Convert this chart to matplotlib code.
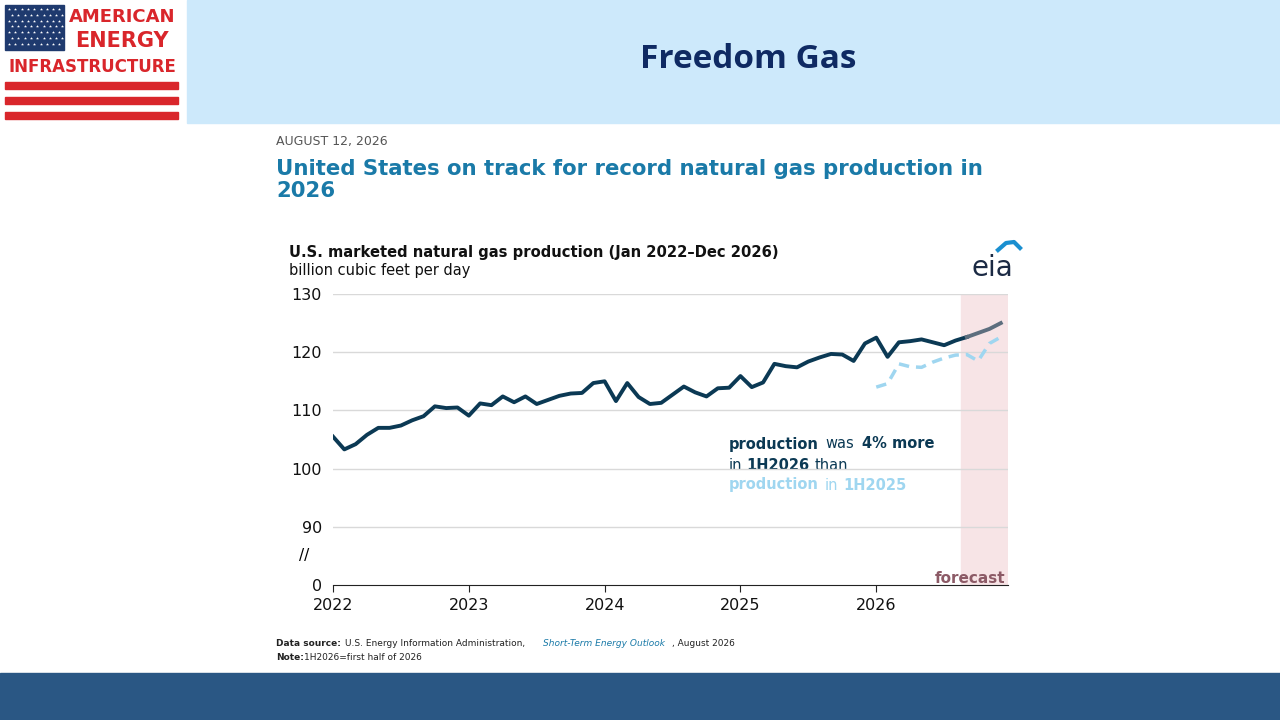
import numpy as np
import matplotlib
matplotlib.use("Agg")
import matplotlib.pyplot as plt
from matplotlib.patches import Rectangle

# monthly marketed production, Jan 2022 - Dec 2026 (bcf/d)
production = [105.5, 103.3, 104.2, 105.8, 107.0, 107.0, 107.4, 108.3, 109.0, 110.7, 110.4, 110.5,
              109.1, 111.2, 110.9, 112.4, 111.4, 112.4, 111.1, 111.8, 112.5, 112.9, 113.0, 114.7,
              115.0, 111.6, 114.7, 112.3, 111.1, 111.3, 112.7, 114.1, 113.1, 112.4, 113.8, 113.9,
              115.9, 114.0, 114.8, 118.0, 117.6, 117.4, 118.4, 119.1, 119.7, 119.6, 118.5, 121.5,
              122.5, 119.2, 121.7, 121.9, 122.2, 121.7, 121.2, 122.0, 122.6, 123.3, 124.0, 125.0]
# 2025 production overlaid on 2026 months
prior_year = [114.0, 114.6, 118.0, 117.5, 117.4, 118.3, 119.0, 119.5, 119.6, 118.5, 121.5, 122.6]
forecast_start = 55  # forecast from Aug 2026 onward
years = [2022, 2023, 2024, 2025, 2026]
yticks = [80, 90, 100, 110, 120, 130]
ytick_labels = ["0", "90", "100", "110", "120", "130"]

W, H = 1280, 720
fig = plt.figure(figsize=(12.8, 7.2), dpi=100)
bg = fig.add_axes([0, 0, 1, 1])
bg.set_xlim(0, W)
bg.set_ylim(H, 0)
bg.axis("off")

# banner and footer
bg.add_patch(Rectangle((187, 0), W - 187, 123, color="#cde9fb"))
bg.add_patch(Rectangle((0, 673), W, 47, color="#2a5784"))
bg.text(748, 60, "Freedom Gas", ha="center", va="center", fontsize=24, fontweight="bold",
        color="#0f2a63", family="Open Sans")

# logo
bg.add_patch(Rectangle((5, 5), 59, 45, color="#1f3a6e"))
for r in range(7):
    for c in range(9):
        bg.plot(9 + c * 6.3 + (r % 2) * 3, 9 + r * 5.8, marker="*", ms=2.3, color="white", mew=0)
red = "#d9262b"
bg.text(122, 17, "AMERICAN", ha="center", va="center", fontsize=13, fontweight="bold", color=red)
bg.text(122, 41, "ENERGY", ha="center", va="center", fontsize=15, fontweight="bold", color=red)
bg.text(92, 67, "INFRASTRUCTURE", ha="center", va="center", fontsize=12, fontweight="bold", color=red)
for y in [82, 97, 112]:
    bg.add_patch(Rectangle((5, y), 173, 7, color=red))

# article header
bg.text(276, 141, "AUGUST 12, 2026", ha="left", va="center", fontsize=9, color="#555555")
bg.text(276, 180, "United States on track for record natural gas production in\n2026", ha="left",
        va="center", fontsize=15.3, fontweight="bold", color="#1a7aa8", linespacing=1.1)
bg.text(289, 252, "U.S. marketed natural gas production (Jan 2022\u2013Dec 2026)", ha="left",
        va="center", fontsize=10.6, fontweight="bold", color="#111111")
bg.text(289, 271, "billion cubic feet per day", ha="left", va="center", fontsize=10.5, color="#111111")
bg.text(992, 268, "eia", ha="center", va="center", fontsize=20, color="#1b2a44")
bg.plot([998, 1006, 1014, 1020], [250, 243, 242, 248], color="#1a8fd0", lw=3)
bg.text(276, 643, "Data source:", ha="left", va="center", fontsize=6.5, fontweight="bold", color="#222")
bg.text(345, 643, "U.S. Energy Information Administration,", ha="left", va="center", fontsize=6.5, color="#222")
bg.text(543, 643, "Short-Term Energy Outlook", ha="left", va="center", fontsize=6.5, color="#1a7aa8",
        style="italic")
bg.text(672, 643, ", August 2026", ha="left", va="center", fontsize=6.5, color="#222")
bg.text(276, 657, "Note:", ha="left", va="center", fontsize=6.5, fontweight="bold", color="#222")
bg.text(304, 657, "1H2026=first half of 2026", ha="left", va="center", fontsize=6.5, color="#222")

# chart
ax = fig.add_axes([333 / W, 1 - 585 / H, (1008 - 333) / W, (585 - 294) / H])
ax.set_facecolor("none")
x = 2022 + np.arange(len(production)) / 12
ax.set_xlim(2022, 2026.97)
ax.set_ylim(80, 130)
ax.axvspan(2022 + forecast_start / 12 + 0.04, 2026.97, color="#f7e4e6", zorder=0)
for t in yticks[1:]:
    ax.axhline(t, color="#d9d9d9", lw=1, zorder=1)
ax.plot(x[:forecast_start + 2], production[:forecast_start + 2], color="#0b3954", lw=2.8, zorder=3)
ax.plot(x[forecast_start + 1:], production[forecast_start + 1:], color="#5d6e7e", lw=2.8, zorder=3)
ax.plot(x[-12:], prior_year, color="#9fd6f0", lw=2.5, ls=(0, (3, 2)), zorder=2)
ax.set_yticks(yticks)
ax.set_yticklabels(ytick_labels)
ax.set_xticks(years)
ax.set_xticklabels([str(y) for y in years])
ax.tick_params(labelsize=11.5, length=0, pad=8, colors="#111111")
ax.tick_params(axis="x", length=5, color="#222", pad=4)
for s in ["top", "right", "left"]:
    ax.spines[s].set_visible(False)
ax.spines["bottom"].set_color("#222")
ax.text(-0.035, 85, "//", transform=ax.get_yaxis_transform(), ha="right", va="center", fontsize=11)
ax.text(2026.95, 81.2, "forecast", ha="right", va="center", fontsize=11, fontweight="bold",
        color="#8c5a66")

fs = 10.5
bg.text(729, 444, "production", ha="left", va="center", fontsize=fs, fontweight="bold", color="#0b3954")
bg.text(825, 444, "was", ha="left", va="center", fontsize=fs, color="#0b3954")
bg.text(862, 444, "4% more", ha="left", va="center", fontsize=fs, fontweight="bold", color="#0b3954")
bg.text(729, 465, "in", ha="left", va="center", fontsize=fs, color="#0b3954")
bg.text(746, 465, "1H2026", ha="left", va="center", fontsize=fs, fontweight="bold", color="#0b3954")
bg.text(815, 465, "than", ha="left", va="center", fontsize=fs, color="#0b3954")
bg.text(729, 485, "production", ha="left", va="center", fontsize=fs, fontweight="bold", color="#9fd6f0")
bg.text(825, 485, "in", ha="left", va="center", fontsize=fs, color="#9fd6f0")
bg.text(843, 485, "1H2025", ha="left", va="center", fontsize=fs, fontweight="bold", color="#9fd6f0")

fig.savefig("out.png", dpi=100)
